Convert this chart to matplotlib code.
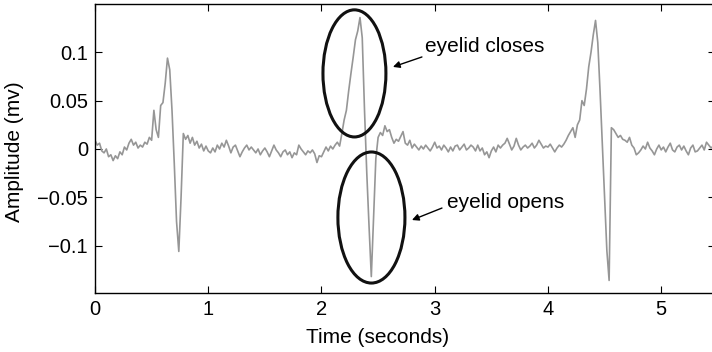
import numpy as np
import matplotlib
matplotlib.use("Agg")
import matplotlib.pyplot as plt
from matplotlib.patches import Ellipse

plt.rcParams["font.family"] = ["Liberation Sans", "DejaVu Sans"]

DT = 0.02
amplitude = [
    0.009, 0.004, 0.006, -0.002, -0.004, 0.000, -0.008, -0.006, -0.012, -0.007,
    -0.010, -0.003, -0.006, 0.002, -0.001, 0.006, 0.010, 0.004, 0.007, 0.001,
    0.004, 0.002, 0.007, 0.005, 0.012, 0.009, 0.040, 0.020, 0.012, 0.045,
    0.048, 0.068, 0.094, 0.082, 0.040, -0.015, -0.075, -0.106, -0.050, 0.016,
    0.010, 0.014, 0.006, 0.012, 0.004, 0.008, 0.001, 0.005, -0.002, 0.003,
    -0.002, -0.004, 0.001, -0.003, 0.004, 0.000, 0.006, 0.002, 0.009, 0.003,
    -0.004, 0.002, 0.004, -0.002, -0.008, -0.003, 0.001, 0.004, -0.001, 0.002,
    -0.001, -0.004, 0.000, -0.006, -0.002, 0.001, -0.003, -0.008, -0.002, 0.004,
    -0.001, -0.004, -0.008, -0.003, -0.001, -0.006, -0.003, -0.009, -0.004, -0.006,
    0.004, 0.000, -0.003, -0.006, -0.002, -0.004, -0.001, -0.005, -0.014, -0.007,
    -0.008, -0.003, 0.002, -0.002, 0.003, 0.000, 0.004, 0.007, 0.003, 0.016,
    0.030, 0.040, 0.060, 0.078, 0.095, 0.113, 0.122, 0.136, 0.115, 0.040,
    -0.025, -0.080, -0.132, -0.070, -0.010, 0.012, 0.017, 0.014, 0.024, 0.018,
    0.020, 0.012, 0.006, 0.010, 0.008, 0.013, 0.018, 0.006, 0.004, 0.009,
    0.001, 0.005, 0.002, -0.001, 0.003, 0.000, 0.004, 0.001, -0.002, 0.002,
    0.007, 0.001, 0.003, -0.001, 0.004, 0.001, -0.003, 0.002, -0.002, 0.003,
    0.004, -0.001, 0.002, 0.005, -0.001, 0.001, 0.004, 0.002, -0.002, 0.004,
    -0.002, 0.001, -0.006, -0.003, -0.009, -0.002, 0.002, -0.003, 0.004, 0.001,
    0.004, 0.006, 0.011, 0.005, -0.001, 0.003, 0.011, 0.004, -0.001, 0.002,
    0.004, 0.001, 0.003, 0.006, 0.001, 0.004, 0.009, 0.005, 0.001, 0.003,
    0.002, 0.005, 0.001, -0.003, 0.001, 0.004, 0.002, 0.005, 0.009, 0.014,
    0.018, 0.022, 0.012, 0.025, 0.030, 0.050, 0.045, 0.062, 0.085, 0.100,
    0.118, 0.133, 0.110, 0.060, 0.005, -0.050, -0.105, -0.136, 0.022, 0.020,
    0.016, 0.012, 0.014, 0.010, 0.009, 0.007, 0.012, 0.004, 0.001, -0.006,
    -0.004, -0.001, 0.003, 0.000, 0.007, 0.001, -0.002, -0.006, 0.000, 0.004,
    -0.001, 0.002, -0.003, 0.002, 0.006, -0.001, -0.003, 0.002, 0.004, -0.001,
    0.003, -0.002, -0.006, 0.001, 0.004, -0.003, -0.002, 0.001, 0.004, -0.001,
    0.007, 0.004, 0.001, 0.003,
]
time = np.arange(len(amplitude)) * DT

x_ticks = [0, 1, 2, 3, 4, 5]
y_ticks = [-0.1, -0.05, 0, 0.05, 0.1]
y_tick_labels = ["\u22120.1", "\u22120.05", "0", "0.05", "0.1"]

fig = plt.figure(figsize=(7.12, 3.52), dpi=100)
ax = fig.add_axes([95 / 712, 59 / 352, 620 / 712, 289 / 352])

ax.plot(time, amplitude, color="#969696", lw=1.2, zorder=2)

# circles around the blink that is explained
ax.add_patch(Ellipse((2.291, 0.0782), 0.556, 0.1315, fill=False,
                     ec="#111111", lw=2.2, zorder=3))
ax.add_patch(Ellipse((2.441, -0.0709), 0.592, 0.1356, fill=False,
                     ec="#111111", lw=2.2, zorder=3))

ax.annotate("", xy=(2.631, 0.0849), xytext=(2.887, 0.0952),
            arrowprops=dict(arrowstyle="-|>", color="black", lw=1.0,
                            mutation_scale=10, shrinkA=0, shrinkB=0))
ax.text(2.914, 0.1056, "eyelid closes", fontsize=15, va="center", ha="left")
ax.annotate("", xy=(2.799, -0.0735), xytext=(3.064, -0.0611),
            arrowprops=dict(arrowstyle="-|>", color="black", lw=1.0,
                            mutation_scale=10, shrinkA=0, shrinkB=0))
ax.text(3.108, -0.0549, "eyelid opens", fontsize=15, va="center", ha="left")

ax.set_xlim(0, 5.475)
ax.set_ylim(-0.149, 0.150)
ax.set_xticks(x_ticks)
ax.set_yticks(y_ticks)
ax.set_yticklabels(y_tick_labels)
ax.tick_params(direction="in", top=True, right=True, length=5, width=0.8,
               labelsize=14.5, pad=5)
for s in ax.spines.values():
    s.set_linewidth(1.0)

ax.set_xlabel("Time (seconds)", fontsize=15)
ax.set_ylabel("Amplitude (mv)", fontsize=15)
ax.xaxis.set_label_coords(0.456, -0.122)
ax.yaxis.set_label_coords(-0.114, 0.49)

fig.savefig("out.png", dpi=100)
